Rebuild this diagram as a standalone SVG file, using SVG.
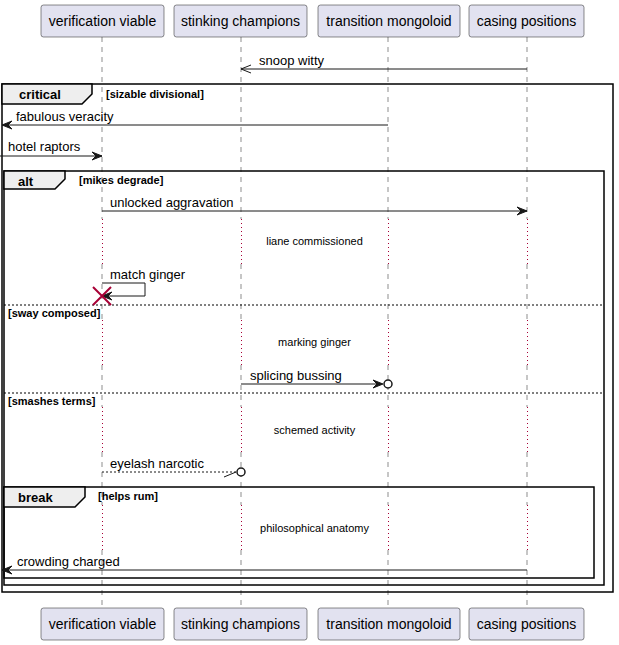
<svg xmlns="http://www.w3.org/2000/svg" width="619" height="645" viewBox="0 0 619 645">
<style>
.pbox{fill:#E2E2F0;stroke:#181818;stroke-width:0.5}
.pname{font-family:"Liberation Sans",Arial,sans-serif;font-size:14px;fill:#000;text-anchor:middle}
.life{stroke:#181818;stroke-width:0.5;stroke-dasharray:5,5;fill:none}
.delay{stroke:#A80036;stroke-width:1;stroke-dasharray:1,3;fill:none}
.msg{stroke:#181818;stroke-width:1;fill:none}
.dashmsg{stroke:#181818;stroke-width:1;stroke-dasharray:2,2;fill:none}
.head{fill:#181818;stroke:#181818;stroke-width:1}
.mtext{font-family:"Liberation Sans",Arial,sans-serif;font-size:13px;fill:#000}
.dtext{font-family:"Liberation Sans",Arial,sans-serif;font-size:11px;fill:#000;text-anchor:middle}
.frame{fill:none;stroke:#000;stroke-width:1.5}
.tab{fill:#EEEEEE;stroke:#000;stroke-width:1.5}
.ftitle{font-family:"Liberation Sans",Arial,sans-serif;font-size:13px;font-weight:bold;fill:#000}
.guard{font-family:"Liberation Sans",Arial,sans-serif;font-size:11px;font-weight:bold;fill:#000}
.sep{stroke:#000;stroke-width:1;stroke-dasharray:2,2;fill:none}
.circ{fill:#fff;stroke:#181818;stroke-width:1.5}
</style>
<rect width="619" height="645" fill="#fff"/>
<g id="lifelines">
<path class="life" d="M102 37V219M102 264V320M102 365V407M102 452V505M102 550V608"/>
<path class="life" d="M241 37V219M241 264V320M241 365V407M241 452V505M241 550V608"/>
<path class="life" d="M388 37V219M388 264V320M388 365V407M388 452V505M388 550V608"/>
<path class="life" d="M527 37V219M527 264V320M527 365V407M527 452V505M527 550V608"/>
<path class="delay" d="M102.5 219V264M241.5 219V264M388.5 219V264M527.5 219V264"/>
<path class="delay" d="M102.5 320V365M241.5 320V365M388.5 320V365M527.5 320V365"/>
<path class="delay" d="M102.5 407V452M241.5 407V452M388.5 407V452M527.5 407V452"/>
<path class="delay" d="M102.5 505V550M241.5 505V550M388.5 505V550M527.5 505V550"/>
</g>
<g id="frames">
<rect class="frame" x="2" y="84" width="611" height="508"/>
<polygon class="tab" points="2,84 92,84 92,94 82,104 2,104"/>
<text class="ftitle" x="19" y="99">critical</text>
<text class="guard" x="106" y="98">[sizable divisional]</text>
<rect class="frame" x="4" y="171" width="600" height="414"/>
<polygon class="tab" points="4,171 65,171 65,179 55,189 4,189"/>
<text class="ftitle" x="18" y="186">alt</text>
<text class="guard" x="79" y="184">[mikes degrade]</text>
<path class="sep" d="M4 305H604M4 393H604"/>
<text class="guard" x="8" y="317">[sway composed]</text>
<text class="guard" x="8" y="405">[smashes terms]</text>
<rect class="frame" x="4" y="487" width="590" height="91"/>
<polygon class="tab" points="4,487 85,487 85,497 75,507 4,507"/>
<text class="ftitle" x="18" y="502">break</text>
<text class="guard" x="98" y="500">[helps rum]</text>
</g>
<g id="connectors">
<path class="msg" d="M241 69H527"/>
<path class="msg" d="M251 65L241 69L251 73"/>
<text class="mtext" x="259" y="65">snoop witty</text>
<path class="msg" d="M2 125H388"/>
<polygon class="head" points="2,125 12,121 8,125 12,129"/>
<text class="mtext" x="16" y="121">fabulous veracity</text>
<path class="msg" d="M0 156H102"/>
<polygon class="head" points="102,156 92,152 96,156 92,160"/>
<text class="mtext" x="8" y="151">hotel raptors</text>
<path class="msg" d="M102 211H527"/>
<polygon class="head" points="527,211 517,207 521,211 517,215"/>
<text class="mtext" x="110" y="207">unlocked aggravation</text>
<text class="dtext" x="314.5" y="245">liane commissioned</text>
<path class="msg" d="M102 283H145V296H102"/>
<polygon class="head" points="102,296 112,292 108,296 112,300"/>
<text class="mtext" x="110" y="279">match ginger</text>
<path d="M93 287L111 305M111 287L93 305" stroke="#A80036" stroke-width="2" fill="none"/>
<text class="dtext" x="314.5" y="346">marking ginger</text>
<path class="msg" d="M241 384H382"/>
<polygon class="head" points="383,384 373,380 377,384 373,388"/>
<circle class="circ" cx="388" cy="384" r="4"/>
<text class="mtext" x="250" y="380">splicing bussing</text>
<text class="dtext" x="314.5" y="434">schemed activity</text>
<path class="dashmsg" d="M102 472H237"/>
<path class="msg" d="M224 477L236 472"/>
<circle class="circ" cx="241" cy="472" r="4"/>
<text class="mtext" x="110" y="468">eyelash narcotic</text>
<text class="dtext" x="314.5" y="532">philosophical anatomy</text>
<path class="msg" d="M2 570H527"/>
<polygon class="head" points="2,570 12,566 8,570 12,574"/>
<text class="mtext" x="17" y="566">crowding charged</text>
</g>
<g id="p1"><rect class="pbox" x="41" y="5" width="123" height="32" rx="2.5"/><text class="pname" x="102.5" y="26">verification viable</text></g>
<g id="p2"><rect class="pbox" x="174" y="5" width="133" height="32" rx="2.5"/><text class="pname" x="240.5" y="26">stinking champions</text></g>
<g id="p3"><rect class="pbox" x="318" y="5" width="142" height="32" rx="2.5"/><text class="pname" x="389" y="26">transition mongoloid</text></g>
<g id="p4"><rect class="pbox" x="469" y="5" width="115" height="32" rx="2.5"/><text class="pname" x="526.5" y="26">casing positions</text></g>
<g id="p1b"><rect class="pbox" x="41" y="608" width="123" height="32" rx="2.5"/><text class="pname" x="102.5" y="629">verification viable</text></g>
<g id="p2b"><rect class="pbox" x="174" y="608" width="133" height="32" rx="2.5"/><text class="pname" x="240.5" y="629">stinking champions</text></g>
<g id="p3b"><rect class="pbox" x="318" y="608" width="142" height="32" rx="2.5"/><text class="pname" x="389" y="629">transition mongoloid</text></g>
<g id="p4b"><rect class="pbox" x="469" y="608" width="115" height="32" rx="2.5"/><text class="pname" x="526.5" y="629">casing positions</text></g>
</svg>
